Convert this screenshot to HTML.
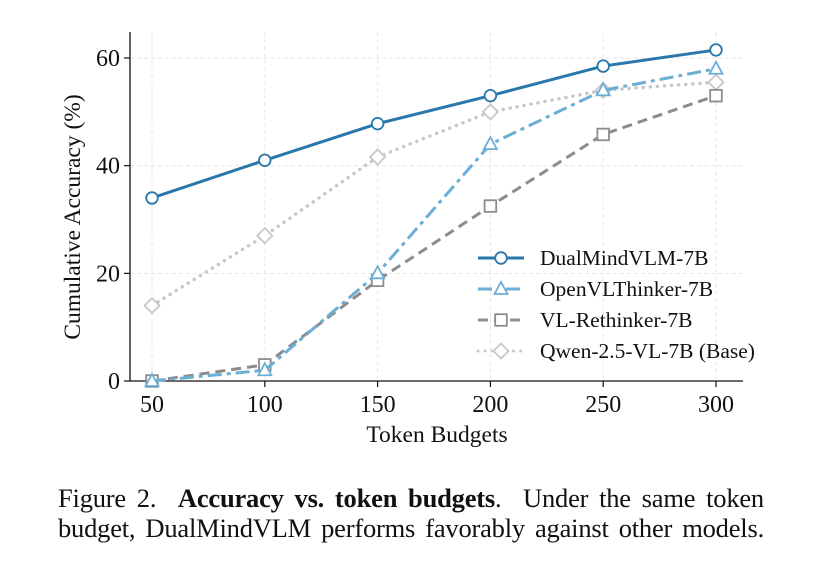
<!DOCTYPE html>
<html><head><meta charset="utf-8"><style>
body{margin:0;background:#fff;width:817px;height:576px;overflow:hidden}
svg{position:absolute;left:0;top:0}
text{font-family:"Liberation Serif",serif;fill:#111}
.cap{position:absolute;left:58px;width:706px;font-family:"Liberation Serif",serif;font-size:26.5px;color:#111;text-align:justify;text-align-last:justify;line-height:30px;top:483px;letter-spacing:-0.2px}
</style></head><body>
<svg width="817" height="576" id="chart"></svg>
<div class="cap">Figure 2.&nbsp; <b>Accuracy vs. token budgets</b>.&nbsp; Under the same token<br><span style="display:block;text-align-last:justify">budget, DualMindVLM performs favorably against other models.</span></div>
<script>
const categories=[50,100,150,200,250,300];
const yTicks=[0,20,40,60];
const dualMind=[34,41,47.8,53,58.5,61.5];
const openVL=[0,2,20,44,54,58];
const vlRethinker=[0,3,18.7,32.5,45.8,53];
const qwen=[14,27,41.6,50,54,55.5];
const names=["DualMindVLM-7B","OpenVLThinker-7B","VL-Rethinker-7B","Qwen-2.5-VL-7B (Base)"];
const NS="http://www.w3.org/2000/svg";
const svg=document.getElementById('chart');
const X=v=>152+(v-50)*(716-152)/250;
const Y=v=>381-v*(381-58)/60;
function mk(t,a,p){const e=document.createElementNS(NS,t);for(const k in a)e.setAttribute(k,a[k]);(p||svg).appendChild(e);return e;}
categories.forEach(c=>{const l=mk('line',{x1:X(c),x2:X(c),y1:32,y2:381,stroke:'#e6e6e6','stroke-dasharray':'4,3'});

});
yTicks.forEach(v=>{const l=mk('line',{x1:130,x2:743,y1:Y(v),y2:Y(v),stroke:'#e6e6e6','stroke-dasharray':'4,3'});

});
const ax=mk('path',{d:'M130 32V381H743',fill:'none',stroke:'#111','stroke-width':1.3});


categories.forEach(c=>{mk('line',{x1:X(c),x2:X(c),y1:381,y2:387,stroke:'#111','stroke-width':1.2});
const t=mk('text',{x:X(c),y:412,'text-anchor':'middle','font-size':24});t.textContent=c;

});
yTicks.forEach(v=>{mk('line',{x1:124,x2:130,y1:Y(v),y2:Y(v),stroke:'#111','stroke-width':1.2});
const t=mk('text',{x:120,y:Y(v)+8,'text-anchor':'end','font-size':24});t.textContent=v;

});
const xl=mk('text',{x:437,y:442,'text-anchor':'middle','font-size':23.5});xl.textContent='Token Budgets';


const yl=mk('text',{x:0,y:0,'text-anchor':'middle','font-size':23.5,transform:'translate(80,217) rotate(-90)'});yl.textContent='Cumulative Accuracy (%)';


const styles=[
 {c:'#2a77ac',d:'',m:'o',w:3},
 {c:'#6baed6',d:'14,5,4,5',m:'^',w:3},
 {c:'#8c8c8c',d:'10,6',m:'s',w:3},
 {c:'#c8c8c8',d:'0.1,7',m:'d',w:3.5}];
function marker(g,m,x,y,c){
 let e;
 if(m==='o')e=mk('circle',{cx:x,cy:y,r:5.8},g);
 else if(m==='^')e=mk('polygon',{points:`${x},${y-7} ${x-6.5},${y+5} ${x+6.5},${y+5}`},g);
 else if(m==='s')e=mk('rect',{x:x-5.8,y:y-5.8,width:11.6,height:11.6},g);
 else e=mk('polygon',{points:`${x},${y-7.5} ${x+7.5},${y} ${x},${y+7.5} ${x-7.5},${y}`},g);
 e.setAttribute('fill','#fff');e.setAttribute('stroke',c);e.setAttribute('stroke-width',1.8);
 
 
}
const series=[dualMind,openVL,vlRethinker,qwen];
for(let i=series.length-1;i>=0;i--){
 const s=styles[i];const g=mk('g',{});
 
 
 const pts=series[i].map((v,j)=>X(categories[j])+','+Y(v)).join(' ');
 const pl=mk('polyline',{points:pts,fill:'none',stroke:s.c,'stroke-width':s.w,'stroke-dasharray':s.d,'stroke-linecap':s.d==='0.1,7'?'round':'butt'},g);
 
 
 series[i].forEach((v,j)=>marker(g,s.m,X(categories[j]),Y(v),s.c));
}
names.forEach((n,i)=>{const s=styles[i];const y=258+i*31;const g=mk('g',{});
 
 
 mk('line',{x1:478,x2:524,y1:y,y2:y,stroke:s.c,'stroke-width':3,'stroke-dasharray':s.d,'stroke-linecap':s.d==='0.1,7'?'round':'butt'},g);
 marker(g,s.m,501,y,s.c);
 const t=mk('text',{x:540,y:y+7,'font-size':21.5},g);t.textContent=n;});
</script>
</body></html>
